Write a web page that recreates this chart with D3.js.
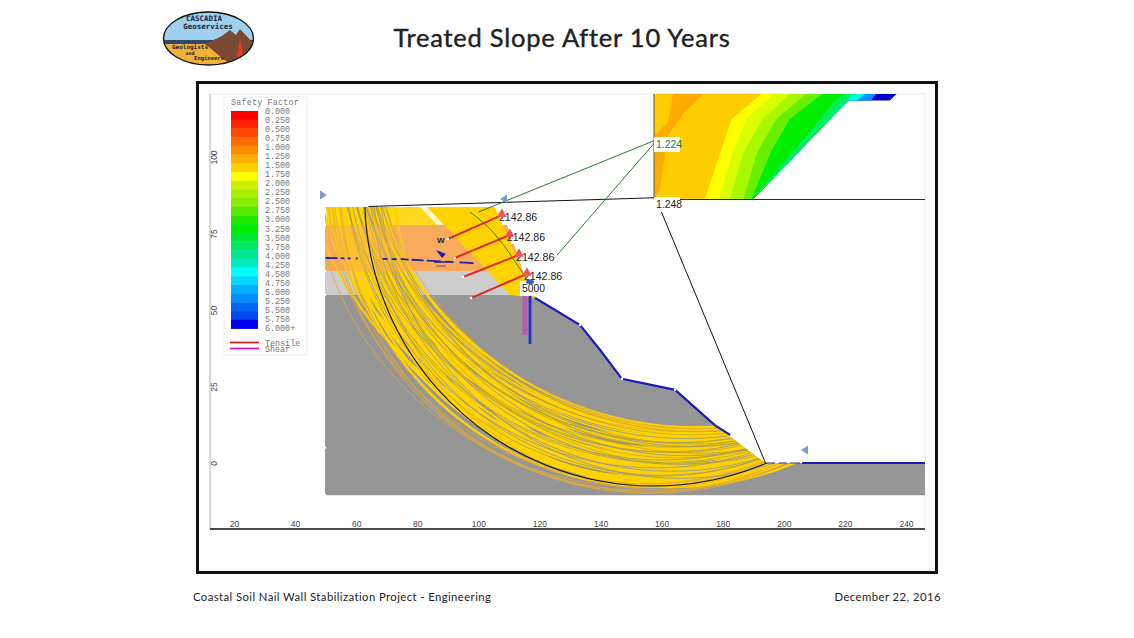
<!DOCTYPE html>
<html>
<head>
<meta charset="utf-8">
<script src="https://cdn.jsdelivr.net/npm/d3@7"></script>
<style>
  html, body { margin: 0; padding: 0; background: #fff; }
  svg { display: block; }
  text { font-family: "Liberation Sans", sans-serif; }
  .mono { font-family: "Liberation Mono", monospace; fill: #777; font-size: 8.4px; }
</style>
</head>
<body>
<svg id="chart" width="1134" height="638"></svg>
<script>
// legend
var legendLabels = ['0.000','0.250','0.500','0.750','1.000','1.250','1.500','1.750','2.000','2.250','2.500','2.750','3.000','3.250','3.500','3.750','4.000','4.250','4.500','4.750','5.000','5.250','5.500','5.750','6.000+'];
var legendColors = ['#ff0000','#ff2200','#ff4800','#ff6a00','#ff8c00','#ffb000','#ffd000','#ffff00','#ccf000','#aaee00','#88ee00','#55ea00','#22e800','#00ee00','#00e830','#00e860','#00e890','#00ecc0','#00ffff','#00d8ff','#00b0ff','#0090ff','#0068f0','#0044f0','#0000ee'];

// axis ticks
var xTicks = [20,40,60,80,100,120,140,160,180,200,220,240];
var yTicks = [0,25,50,75,100];

// materials, x / y in model units
var foundation = [[49.8,54.9],[118.6,54.9],[118.6,53.9],[133.3,45.1],[139.8,37],[147,27.5],[164.4,23.9],[177.4,12.4],[193.8,0],[246.2,0],[246.2,-10.5],[49.8,-10.5]];
var fillLayer = [[49.8,62.7],[114.6,62.7],[118.5,54.9],[49.8,54.9]];
var clayLayer = [[49.8,77.8],[109.4,77.8],[114.6,62.7],[49.8,62.7]];
var topLayer = [[49.8,83.7],[105.4,83.7],[109.4,77.8],[49.8,77.8]];
var slopeUpper = [[118.6,53.9],[133.3,45.1],[139.8,37],[147,27.5],[164.4,23.9],[177.4,12.4],[182.4,9.2]];
var slopeToe = [[193.8,0],[206,0]];
var slopeFlat = [[206,0],[246.2,0]];
var soilOutline = [[49.8,83.7],[105.4,83.7],[109.4,77.8],[114.6,62.7],[118.6,53.9],[133.3,45.1],[139.8,37],[147,27.5],[164.4,23.9],[177.4,12.4],[193.8,0],[246.2,0],[246.2,-10.5],[49.8,-10.5]];
var waterLine = [[50,67],[75,66.6],[100,65.2]];
var edgeDots = [[49.8,77.8],[49.8,62.7],[49.8,54.9],[49.8,5],[49.8,-10.5],[133.3,45.1],[147,27.5],[164.4,23.9]];

// slip circles, [centre x, centre y, radius]
var denseSlips = [
  [170,124,113],[171,122,110.5],[169,122,112],[168,120,111],[172,118,109],[167,118,110],
  [170,116,109],[165,116,109.5],[168,114,108.5],[172,112,107.5],[166,112,108],[163,112,109],
  [168,110,107],[171,108,106],[164,108,106.5],[166,106,105.5],[169,104,104.5],[162,106,107],
  [165,102,103.5],[167,100,102.5],[160,104,107],[163,100,104],[166,97,100.5],[160,128,120],
  [162,126,118],[158,122,117],[164,120,116],[156,118,116],[160,114,112.5],[158,110,110],
  [156,106,108],[160,98,101.5],[158,92,98],[163,94,99],[160,90,97],[165,90,98],
  [162,88,96],[158,96,104],[168,92,97.5],[172,96,100],[170,100,102],
  [169,126,115.5],[168,124,114.5],[166,122,113.5],[165,120,113],[164,118,112],[162,116,111.5],
  [161,112,109.5],[160,110,109],[166,116,110.5],[169,118,110.5],[163,114,110],[167,108,106],
  [161,102,104.5],[159,100,104],[157,98,103],[164,104,105],[162,98,102],[159,94,99.5],
  [157,90,96.5],[164,96,100],[161,94,98.5],[168,96,99.5]
];
var thinSlips = [[157,97,107],[156,94,103.5],[153,100,108],[155,90,100],[161,86,95],[170,124,113],[168,126,116],[172,120,109],[155,100,107],[153,92,101],[155,94,101]];
var gapSlips = [[168,118,110.2],[165,112,105.6],[170,110,104.8],[162,108,104.6],[168,106,103.8],[160,104,103.2],[165,100,100.6],[158,100,101.8],[163,96,98.9],[160,94,98.2],[166,93,98.2]];
var seamSlips = [[172,122,112],[166,118,111.5],[170,114,108],[164,110,106.8],[168,102,102.5],[161,106,106],[172,108,105],[159,98,102.5],[167,112,107],[163,116,111],[170,120,111],[165,106,104.5]];
var criticalSlip = [157.4,86.9,94.6];
var criticalChord = [[64,83.8],[158,86.7]];
var tensionLine = [[158,86.7],[194,0]];

// wall fans
var wallWedge = [[83.2,83.7],[105.4,83.7],[114.9,61.4],[119.2,53.9],[110.3,54.9]];
var topFan = [[50.4,83.7],[80.9,83.7],[86.5,77.8],[50.4,77.8]];

// nails, [tail x, tail y, head x, head y]
var nails = [[90,73.2,107.7,81],[92.3,67,110.3,74.5],[95,60.8,113.3,68],[97.6,53.9,115.9,61.8]];
var nailLabel = ['2142.86','2142.86','2142.86','2142.86'];
var slipPointer = [[97.3,82],[105,76],[112,66],[115.5,60.5]];
var greenA = [[158,105.5],[100,82]];
var greenB = [[158,105],[124.5,66.5]];
var loadTop = [116.9,59.2];
var loadBottom = [116.9,38.9];
var markers = [[-1,320,195],[1,507,199],[1,808,450]];

// inset contours, percent of the inset box
var insetColors = ['#0000cc','#0090ff','#00ffdd','#00ee60','#00ee00','#66f000','#aaf800','#d8ff00','#ffff00','#ffcc00','#ffaa00'];
var insetBands = [
  [[0,0],[0,100],[89.5,100],[87,93.7],[71.7,93.7],[36.6,0]],
  [[0,0],[0,100],[82,100],[80,93.7],[71.7,93.7],[36.6,0]],
  [[0,0],[0,100],[78,100],[75,93.7],[71.7,93.7],[36.6,0]],
  [[0,0],[0,100],[73,100],[71.7,93.7],[36.6,0]],
  [[0,0],[0,100],[70,100],[67,93.7],[60,72],[36.6,0]],
  [[0,0],[0,100],[62,100],[50,76],[43,44],[36,0]],
  [[0,0],[0,100],[56,100],[45,76],[38,44],[33,0]],
  [[0,0],[0,100],[50,100],[40,76],[33,44],[28,0]],
  [[0,0],[0,100],[44,100],[34,76],[29,44],[24,0]],
  [[0,0],[0,100],[39.7,100],[28.6,76],[18.7,0]],
  [[0,60.3],[5.2,73],[7,100],[18.1,100],[10.7,81],[3.9,55.6],[3.9,38],[2.1,9.5],[0,0]]
];

var svg = d3.select('#chart');
var x = d3.scaleLinear().domain([20,240]).range([234,906]);
var y = d3.scaleLinear().domain([0,100]).range([463,157]);
var insetX = d3.scaleLinear().domain([0,100]).range([654,925]);
var insetY = d3.scaleLinear().domain([0,100]).range([199,94]);
var modelLine = d3.line().x(function(d){ return x(d[0]); }).y(function(d){ return y(d[1]); });
var insetLine = d3.line().x(function(d){ return insetX(d[0]); }).y(function(d){ return insetY(d[1]); });

function polygon(points, fill, parent) {
    return (parent || svg).append('path').attr('d', modelLine(points) + 'Z').attr('fill', fill);
}
function polyline(points, color, width) {
    return svg.append('path').attr('d', modelLine(points)).attr('fill', 'none').attr('stroke', color).attr('stroke-width', width);
}
function slipCircles(parent, data, color, width) {
    return parent.selectAll('.none').data(data).enter().append('circle')
        .attr('cx',function(d){ return x(d[0]); }).attr('cy',function(d){ return y(d[1]); })
        .attr('r',function(d){ return x(d[2])-x(0); })
        .attr('fill','none').attr('stroke',color).attr('stroke-width',width);
}

// page
svg.append('text').attr('x',562).attr('y',47).attr('text-anchor','middle')
    .style('font-family','Lato').style('font-size','25.5px').style('letter-spacing','0.75px')
    .attr('fill','#222').attr('stroke','#222').attr('stroke-width',0.4)
    .text('Treated Slope After 10 Years');
svg.append('rect').attr('x',197.5).attr('y',82.5).attr('width',739).attr('height',490)
    .attr('fill','#fff').attr('stroke','#111').attr('stroke-width',3);
svg.append('text').attr('x',193).attr('y',601).style('font-family','Lato').style('font-size','11.3px')
    .style('letter-spacing','0.42px').attr('fill','#222').text('Coastal Soil Nail Wall Stabilization Project - Engineering');
svg.append('text').attr('x',941).attr('y',601).attr('text-anchor','end').style('font-family','Lato').style('font-size','11.3px')
    .style('letter-spacing','0.45px').attr('fill','#222').text('December 22, 2016');

// logo
var logo = svg.append('g');
logo.append('clipPath').attr('id','logoClip').append('ellipse').attr('cx',208.5).attr('cy',38.5).attr('rx',45).attr('ry',26.5);
var logoBody = logo.append('g').attr('clip-path','url(#logoClip)');
logoBody.append('rect').attr('x',160).attr('y',10).attr('width',100).attr('height',32).attr('fill','#9fd0ee');
logoBody.append('rect').attr('x',160).attr('y',40).attr('width',100).attr('height',5).attr('fill','#2c4a66');
logoBody.append('rect').attr('x',160).attr('y',44).attr('width',100).attr('height',24).attr('fill','#f2b23a');
logoBody.append('path').attr('d','M205 44L222 36L230 30L236 35L240 29L254 44L250 66L232 66Z').attr('fill','#7a4a32');
logoBody.append('path').attr('d','M240 38L245 62L236 62Z').attr('fill','#d8401c');
logo.append('ellipse').attr('cx',208.5).attr('cy',38.5).attr('rx',45).attr('ry',26.5).attr('fill','none').attr('stroke','#111').attr('stroke-width',1.4);
[['CASCADIA',204,21,7.5],['Geoservices',208,29,7.5],['Geologists',190,49,6],['and',190,54.5,5],['Engineers',209,60,5.5]].forEach(function(d){
    logo.append('text').attr('x',d[1]).attr('y',d[2]).attr('text-anchor','middle').style('font-family','DejaVu Sans Mono')
        .style('font-size',d[3]+'px').style('font-weight','bold').attr('fill','#223').text(d[0]);
});

// plot frame
svg.append('rect').attr('x',210).attr('y',94).attr('width',715).attr('height',435).attr('fill','none').attr('stroke','#eaeaea');
svg.append('line').attr('x1',210).attr('x2',210).attr('y1',94).attr('y2',529).attr('stroke','#bbb');

// axes
var xAxis = svg.append('g').attr('transform','translate(0,529)')
    .call(d3.axisTop(x).tickValues(xTicks).tickSize(0).tickPadding(2));
xAxis.select('.domain').attr('d','M210,0H925').attr('stroke','#111').attr('stroke-width',1.6);
xAxis.selectAll('text').style('font-family','Liberation Sans').style('font-size','8.5px').attr('fill','#444');
var yAxis = svg.append('g').attr('transform','translate(210,0)')
    .call(d3.axisRight(y).tickValues(yTicks).tickSize(0));
yAxis.select('.domain').remove();
yAxis.selectAll('text').style('font-family','Liberation Sans').style('font-size','8.5px').attr('fill','#444')
    .attr('text-anchor','middle').attr('dy',0).attr('x',0)
    .attr('dominant-baseline','middle').attr('transform','translate(5,0) rotate(-90)');

// legend
svg.append('rect').attr('x',224).attr('y',97).attr('width',83).attr('height',258).attr('fill','#fdfdfd').attr('stroke','#eee');
svg.append('text').attr('class','mono').attr('x',231).attr('y',105).style('letter-spacing','0.2px').text('Safety Factor');
var legendY = d3.scaleBand().domain(legendLabels).range([111,328.5]);
svg.selectAll('.legend-cell').data(legendLabels).enter().append('rect').attr('class','legend-cell')
    .attr('x',231).attr('width',27).attr('y',function(d){ return legendY(d); })
    .attr('height',legendY.bandwidth()+0.4).attr('fill',function(d,i){ return legendColors[i]; });
svg.selectAll('.legend-label').data(legendLabels).enter().append('text').attr('class','mono legend-label')
    .attr('x',265).attr('y',function(d,i){ return 114 + i*9.04; }).text(function(d){ return d; });
svg.append('line').attr('x1',230).attr('x2',259).attr('y1',342.5).attr('y2',342.5).attr('stroke','#d8202a').attr('stroke-width',1.8);
svg.append('line').attr('x1',230).attr('x2',259).attr('y1',348.5).attr('y2',348.5).attr('stroke','#d020c0').attr('stroke-width',1.8);
svg.append('text').attr('class','mono').attr('x',265).attr('y',345.5).text('Tensile');
svg.append('text').attr('class','mono').attr('x',265).attr('y',352).text('Shear');

// materials
polygon(foundation,'#969696');
polygon(fillLayer,'#cdcdcd');
polygon(clayLayer,'#f9ab5e');
polygon(topLayer,'#fff4cc');

// slip surfaces clipped to the soil
svg.append('clipPath').attr('id','soilClip').append('path').attr('d',modelLine(soilOutline)+'Z');
var slips = svg.append('g').attr('clip-path','url(#soilClip)');
polygon(topFan,'#ffd60a',slips).attr('opacity',0.9);
slipCircles(slips, denseSlips, '#ffd300', 2.4);
slipCircles(slips, thinSlips, '#e0a93a', 0.8);
slipCircles(slips, gapSlips, '#969696', 1).attr('opacity',0.85);
slipCircles(slips, seamSlips, '#b09a30', 0.6);
polygon(clayLayer,'#f9ab5e',slips).attr('opacity',0.42);
polygon(wallWedge,'#ffd300',slips);
slipCircles(slips, [criticalSlip], '#111', 1.1);

// slope and water
polyline(slopeUpper,'#1c1cb8',2.2);
polyline(slopeToe,'#33336a',1).attr('stroke-dasharray','10 4 8 3');
polyline(slopeFlat,'#1c1cb8',2);
polyline(waterLine,'#2020a8',1.8).attr('stroke-dasharray','12 3 4 3 3 5 2 25 5 4 5 4 8 3 12 3 14 5 8 6 14 8 10 30');
svg.selectAll('.edge-dot').data(edgeDots).enter().append('circle').attr('class','edge-dot')
    .attr('cx',function(d){ return x(d[0]); }).attr('cy',function(d){ return y(d[1]); }).attr('r',1.3).attr('fill','#fff');

// pink and blue load
svg.append('line').attr('x1',x(loadTop[0])-5).attr('x2',x(loadTop[0])-5).attr('y1',296).attr('y2',335).attr('stroke','#b45fb0').attr('stroke-width',5);
svg.append('line').attr('x1',x(loadTop[0])).attr('x2',x(loadBottom[0])).attr('y1',y(loadTop[1])).attr('y2',y(loadBottom[1])).attr('stroke','#2030c8').attr('stroke-width',2.8);

// inset
insetBands.forEach(function(b,i){
    svg.append('path').attr('d',insetLine(b)+'Z').attr('fill',insetColors[i]);
});
svg.append('line').attr('x1',654).attr('x2',654).attr('y1',94).attr('y2',199).attr('stroke','#555').attr('stroke-width',1);
svg.append('line').attr('x1',654).attr('x2',925).attr('y1',199.5).attr('y2',199.5).attr('stroke','#25255a').attr('stroke-width',1.2);

// slip pointers
polyline(criticalChord,'#111',1.1);
polyline(tensionLine,'#111',1);
polyline(greenA,'#2d7a36',1);
polyline(greenB,'#2d7a36',1);
svg.append('path').attr('d',d3.line().curve(d3.curveBasis).x(function(d){ return x(d[0]); }).y(function(d){ return y(d[1]); })(slipPointer))
    .attr('fill','none').attr('stroke','#3d7a30').attr('stroke-width',1);

// nails
nails.forEach(function(n){
    svg.append('line').attr('x1',x(n[0])).attr('y1',y(n[1])).attr('x2',x(n[2])).attr('y2',y(n[3]))
        .attr('stroke','#dd2a20').attr('stroke-width',2);
    svg.append('circle').attr('cx',x(n[0])).attr('cy',y(n[1])).attr('r',1.3).attr('fill','#fff');
});
nails.forEach(function(n,i){
    var hx = x(n[2]), hy = y(n[3]);
    svg.append('rect').attr('x',hx+1).attr('y',hy-5).attr('width',37).attr('height',14).attr('fill','#fff').attr('opacity',0.85);
    svg.append('text').attr('x',hx-3).attr('y',hy+6).style('font-size','10.6px').attr('fill','#222').text(nailLabel[i]);
    svg.append('path').attr('d',d3.symbol().type(d3.symbolTriangle).size(40)()).attr('transform','translate('+hx+','+(hy-1)+')').attr('fill','#f2505a');
});

// value tags
function tag(px, py, w, label, color) {
    svg.append('rect').attr('x',px).attr('y',py).attr('width',w).attr('height',15).attr('fill','#fff');
    svg.append('text').attr('x',px+2).attr('y',py+11).style('font-size','10.4px').attr('fill',color).text(label);
}
tag(654,137,26,'1.224','#2d7a36');
tag(654,197,26,'1.248','#222');
tag(520,281,24,'5000','#222');
svg.append('ellipse').attr('cx',x(loadTop[0])).attr('cy',y(loadTop[1])).attr('rx',4).attr('ry',2.2).attr('fill','#3a50d8');

// markers
markers.forEach(function(m){
    var tip = m[1] - 7 * m[0];
    svg.append('path').attr('d','M'+m[1]+','+(m[2]-4.5)+'L'+tip+','+m[2]+'L'+m[1]+','+(m[2]+4.5)+'Z').attr('fill','#7f9cc4');
});
svg.append('text').attr('x',437).attr('y',243).style('font-size','8px').style('font-weight','bold').attr('fill','#224').text('W');
svg.append('path').attr('d','M436 250L446 254L442 258Z').attr('fill','#1a1ab0');
svg.append('line').attr('x1',434).attr('x2',447).attr('y1',262).attr('y2',262).attr('stroke','#1a1ab0').attr('stroke-width',1.5);
svg.append('line').attr('x1',436).attr('x2',446).attr('y1',266).attr('y2',266).attr('stroke','#884488').attr('stroke-width',1);
</script>
</body>
</html>
